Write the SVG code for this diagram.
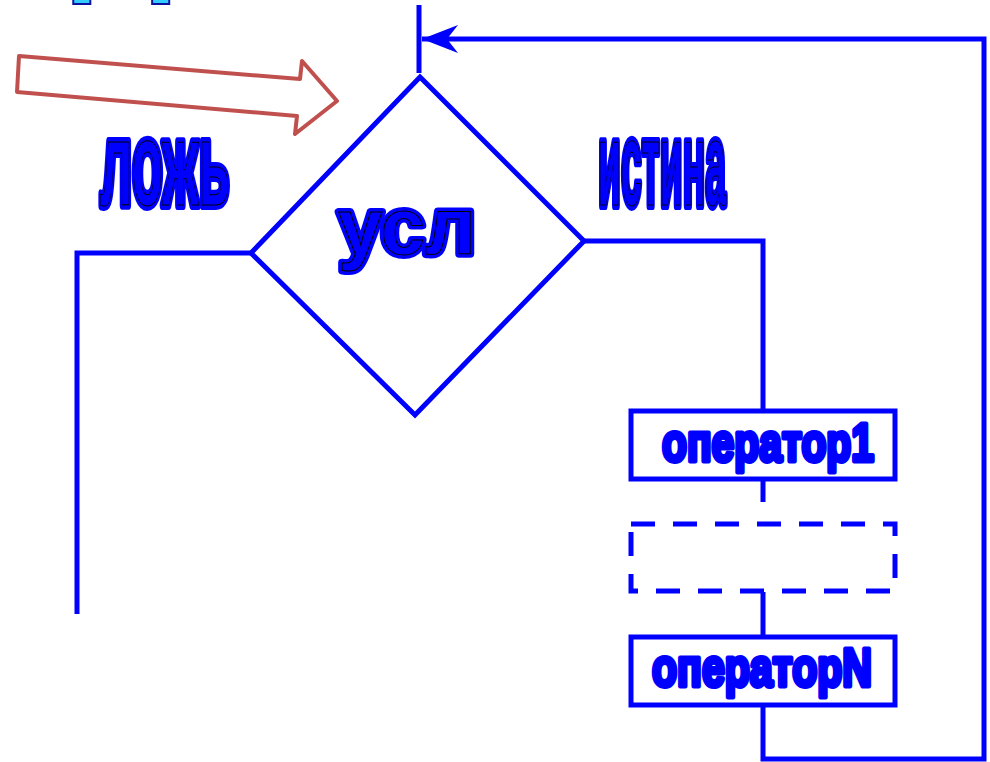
<svg xmlns="http://www.w3.org/2000/svg" width="990" height="762" viewBox="0 0 990 762">
<style>
.ln{fill:none;stroke:#0000ff;stroke-width:5;stroke-linecap:butt;stroke-linejoin:miter}
.box{fill:#fff;stroke:#0000ff;stroke-width:5}
.dash{fill:none;stroke:#0000ff;stroke-width:5;stroke-dasharray:24 18}
.t{font-family:"Liberation Sans",Arial,sans-serif;font-weight:bold}
.o{fill:#0000ff;stroke:#0000ff;stroke-width:10;stroke-linejoin:round}
.o2{fill:#0000ff;stroke:#0000ff;stroke-width:8;stroke-linejoin:round}
.i{fill:#0000ff;stroke:#000;stroke-width:1}
.op{fill:#0000ff;stroke:#0000ff;stroke-width:5;stroke-linejoin:round}
</style>
<defs>
<marker id="ah" markerUnits="userSpaceOnUse" markerWidth="40" markerHeight="32" refX="39" refY="16" orient="auto" viewBox="0 0 40 32">
<path d="M39 16 L3 2 L14 16 L3 30 Z" fill="#0000ff"/>
</marker>
</defs>
<g id="title-fragment">
<text class="t" x="72" y="-24" font-size="140" fill="#33ccff" stroke="#1010a0" stroke-width="2">Д</text>
</g>
<g id="pointer">
<polygon points="19,56 300,79 302,61 337,101 295,134 297,116 17,92" fill="#fff" stroke="#c0504d" stroke-width="4" stroke-linejoin="round"/>
</g>
<g id="connectors">
<line class="ln" x1="419" y1="5" x2="419" y2="73"/>
<polyline class="ln" points="763,706 763,759 984,759 984,39 422,39" marker-end="url(#ah)"/>
<polyline class="ln" points="251,253 77,253 77,614"/>
<polyline class="ln" points="584,241 763,241 763,410"/>
<line class="ln" x1="763" y1="480" x2="763" y2="502"/>
<line class="ln" x1="763" y1="592" x2="763" y2="636"/>
</g>
<g id="cond">
<polygon class="ln" points="420,77 584,241 415,415 251,253"/>
<text class="t o2" x="407" y="254" font-size="80" text-anchor="middle">усл</text>
<text class="t i" x="407" y="254" font-size="80" text-anchor="middle">усл</text>
</g>
<g id="label-false">
<text class="t o" x="100" y="205" font-size="118" textLength="130" lengthAdjust="spacingAndGlyphs">ложь</text>
<text class="t i" x="100" y="205" font-size="118" textLength="130" lengthAdjust="spacingAndGlyphs" stroke-width="0.7">ложь</text>
</g>
<g id="label-true">
<text class="t o" x="598" y="205" font-size="118" textLength="128" lengthAdjust="spacingAndGlyphs">истина</text>
<text class="t i" x="598" y="205" font-size="118" textLength="128" lengthAdjust="spacingAndGlyphs" stroke-width="0.7">истина</text>
</g>
<g id="op1">
<rect class="box" x="631" y="411" width="264" height="68"/>
<text class="t op" x="662" y="461" font-size="54" textLength="212" lengthAdjust="spacingAndGlyphs">оператор1</text>
</g>
<g id="opdots">
<rect class="dash" x="631" y="524" width="264" height="67"/>
</g>
<g id="opN">
<rect class="box" x="631" y="637" width="264" height="68"/>
<text class="t op" x="652" y="686" font-size="54" textLength="220" lengthAdjust="spacingAndGlyphs">операторN</text>
</g>
</svg>
